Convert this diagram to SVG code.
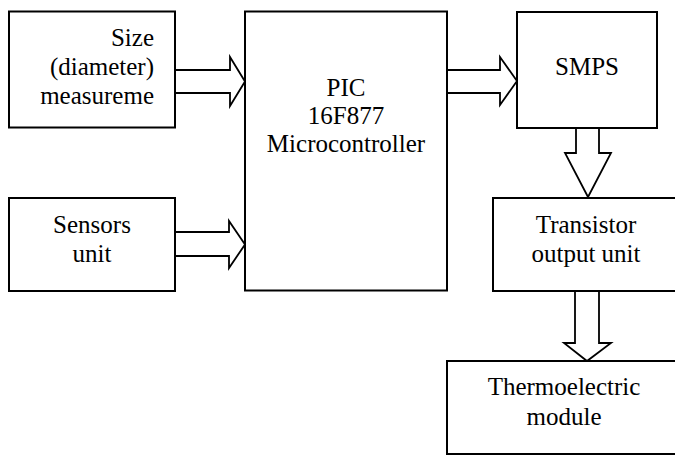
<svg xmlns="http://www.w3.org/2000/svg" width="675" height="456" viewBox="0 0 675 456">
<style>
.box{fill:#fff;stroke:#000;stroke-width:2}
.arr{fill:#fff;stroke:#000;stroke-width:1.8;stroke-linejoin:miter}
.c{text-anchor:middle}
.e{text-anchor:end}
</style>
<rect width="675" height="456" fill="#fff"/>
<g id="connectors">
<polygon class="arr" points="175,70 230,70 230,57 245,81.5 230,106 230,93 175,93"/>
<polygon class="arr" points="175,232 229,232 229,221 245,244.5 229,268 229,256 175,256"/>
<polygon class="arr" points="447,70 500,70 500,57 517,81 500,105 500,93 447,93"/>
<polygon class="arr" points="576,128 599,128 599,153 611,153 588,197 565,153 576,153"/>
<polygon class="arr" points="575,291 599,291 599,343 611,343 587,361 564,343 575,343"/>
</g>
<g font-family="Liberation Serif, Times New Roman, serif" font-size="25" fill="#000">
<g id="size">
<rect class="box" x="9" y="11.5" width="166" height="116"/>
<text class="e" x="154" y="46">Size</text>
<text class="e" x="154" y="75">(diameter)</text>
<text class="e" x="154" y="104">measureme</text>
</g>
<g id="sensors">
<rect class="box" x="9" y="198" width="166" height="93"/>
<text class="c" x="92" y="233">Sensors</text>
<text class="c" x="92" y="262">unit</text>
</g>
<g id="pic">
<rect class="box" x="245" y="11.5" width="202" height="279"/>
<text class="c" x="346" y="96">PIC</text>
<text class="c" x="346" y="124">16F877</text>
<text class="c" x="346" y="152">Microcontroller</text>
</g>
<g id="smps">
<rect class="box" x="517" y="12" width="140" height="116"/>
<text class="c" x="587" y="75">SMPS</text>
</g>
<g id="transistor">
<rect class="box" x="493" y="198" width="190" height="93"/>
<text class="c" x="586" y="233">Transistor</text>
<text class="c" x="586" y="262">output unit</text>
</g>
<g id="thermo">
<rect class="box" x="447" y="361" width="240" height="93"/>
<text class="c" x="564" y="395">Thermoelectric</text>
<text class="c" x="564" y="425">module</text>
</g>
</g>
</svg>
